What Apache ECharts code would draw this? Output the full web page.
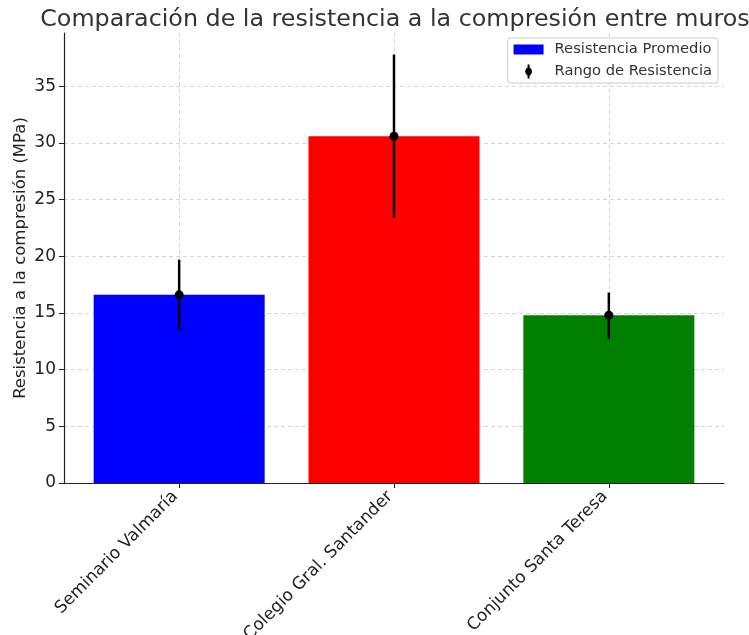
<!DOCTYPE html>
<html><head><meta charset="utf-8">
<script src="https://cdn.jsdelivr.net/npm/echarts@6/dist/echarts.min.js"></script>
<style>html,body{margin:0;padding:0;background:#fff}#c{width:749px;height:635px}</style>
</head><body><div id="c"></div>
<script>
const categories = ['Seminario Valmaría', 'Colegio Gral. Santander', 'Conjunto Santa Teresa'];
const means = [16.6, 30.6, 14.8];
const lows = [13.5, 23.4, 12.7];
const highs = [19.7, 37.8, 16.8];
const barColors = ['#0000ff', '#ff0000', '#008000'];
const yTicks = [0, 5, 10, 15, 20, 25, 30, 35];
const xTicks = [0, 1, 2];

const font = 'DejaVu Sans';
const chart = echarts.init(document.getElementById('c'));
chart.setOption({
  animation: false,
  backgroundColor: '#fff',
  title: {
    text: 'Comparación de la resistencia a la compresión entre muros',
    left: 390, top: 3, textAlign: 'center',
    textStyle: {fontFamily: font, fontSize: 23.8, fontWeight: 'normal', color: '#333'}
  },
  legend: {
    right: 31, top: 38, orient: 'vertical', itemGap: 7,
    backgroundColor: 'rgba(255,255,255,0.8)', borderColor: '#ccc', borderWidth: 1, borderRadius: 3,
    padding: [4, 6, 4, 6], itemWidth: 30, itemHeight: 14,
    textStyle: {fontFamily: font, fontSize: 14.7, color: '#333', padding: [0, 0, 0, 6]},
    data: [
      {name: 'Resistencia Promedio', icon: 'path://M0,0 M30,14 M0,2 L30,2 L30,12 L0,12 Z', itemStyle: {color: '#0000ff'}},
      {name: 'Rango de Resistencia', icon: 'path://M0,0 M30,14 M14,0 L16,0 L16,3 A4.5,4.5 0 0 1 16,11 L16,14 L14,14 L14,11 A4.5,4.5 0 0 1 14,3 Z', itemStyle: {color: '#000'}}
    ]
  },
  grid: {left: 64, right: 25, top: 33, bottom: 152, containLabel: false, outerBoundsMode: 'none'},
  xAxis: {
    type: 'value', min: -0.536, max: 2.536,
    axisLine: {show: true, onZero: false, lineStyle: {color: '#222', width: 1.2}},
    axisTick: {show: true, customValues: xTicks, length: 5, lineStyle: {color: '#222'}},
    axisLabel: {
      customValues: xTicks, rotate: 45, fontFamily: font, fontSize: 17, color: '#222', margin: 7,
      formatter: v => categories[Math.round(v)] + ' '
    },
    splitLine: {show: true, lineStyle: {type: [4, 3], color: '#ccc', width: 0.8}}
  },
  yAxis: {
    type: 'value', min: 0, max: 39.7,
    name: 'Resistencia a la compresión (MPa)', nameLocation: 'middle', nameGap: 35, nameMoveOverlap: false,
    nameTextStyle: {fontFamily: font, fontSize: 16.5, color: '#222'},
    axisLine: {show: true, onZero: false, lineStyle: {color: '#222', width: 1.2}},
    axisTick: {show: true, customValues: yTicks, length: 5, lineStyle: {color: '#222'}},
    axisLabel: {customValues: yTicks, fontFamily: font, fontSize: 17, color: '#222', margin: 8},
    splitLine: {show: true, lineStyle: {type: [4, 3], color: '#ccc', width: 0.8}}
  },
  series: [
    {
      name: 'Resistencia Promedio', type: 'bar', barWidth: 171, z: 1,
      itemStyle: {color: '#0000ff'},
      data: means.map((m, i) => ({value: [i, m], itemStyle: {color: barColors[i]}}))
    },
    {
      name: 'Rango de Resistencia', type: 'custom', z: 5,
      itemStyle: {color: '#000'},
      data: means.map((m, i) => [i, m, lows[i], highs[i]]),
      renderItem: function (params, api) {
        const x = api.value(0);
        const top = api.coord([x, api.value(3)]);
        const bot = api.coord([x, api.value(2)]);
        const mid = api.coord([x, api.value(1)]);
        return {type: 'group', children: [
          {type: 'line', shape: {x1: top[0], y1: top[1], x2: bot[0], y2: bot[1]}, style: {stroke: '#000', lineWidth: 2.5}},
          {type: 'circle', shape: {cx: mid[0], cy: mid[1], r: 4.5}, style: {fill: '#000'}}
        ]};
      }
    }
  ]
});
</script></body></html>
